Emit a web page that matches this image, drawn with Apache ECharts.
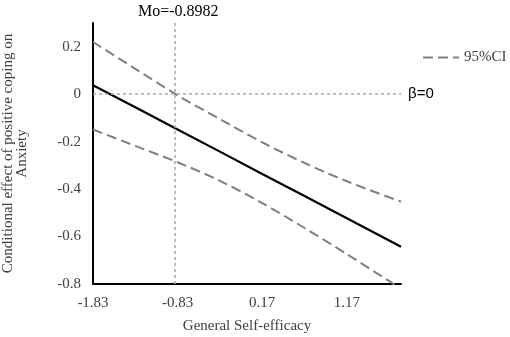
<!DOCTYPE html>
<html>
<head>
<meta charset="utf-8">
<script src="https://cdn.jsdelivr.net/npm/echarts@6/dist/echarts.min.js"></script>
<style>
  html, body { margin: 0; padding: 0; background: #fff; }
  #jnPlot { width: 510px; height: 337px; }
</style>
</head>
<body>
<div id="jnPlot"></div>
<script>
// general self-efficacy (moderator) values
var xData = [-1.83, -1.33, -0.83, -0.33, 0.17, 0.67, 1.17, 1.81]
// conditional effect and 95% CI bounds
var effect = [0.038, -0.055, -0.149, -0.242, -0.336, -0.429, -0.523, -0.643]
var ciUpper = [0.22, 0.107, -0.005, -0.105, -0.203, -0.29, -0.367, -0.453]
var ciLower = [-0.149, -0.218, -0.287, -0.365, -0.459, -0.564, -0.674, -0.82]
var yTicks = [-0.8, -0.6, -0.4, -0.2, 0, 0.2]
var xTicks = [-1.83, -0.83, 0.17, 1.17]
var moValue = -0.86
var moLabel = 'Mo=-0.8982'

function pairs(ys) {
  var out = []
  for (let i = 0; i < xData.length; i++) {
    out.push([xData[i], ys[i]])
  }
  return out
}

var chart = echarts.init(document.getElementById('jnPlot'));
var serif = '"Liberation Serif", "Times New Roman", serif';
var ciStyle = {
  color: '#7f7f7f',
  width: 2,
  type: [10, 5]
};

option = {
  animation: false,
  textStyle: { fontFamily: serif },
  title: {
    text: moLabel,
    left: 138,
    top: 4,
    padding: 0,
    textStyle: {
      fontFamily: serif,
      fontSize: 16,
      fontWeight: 'normal',
      color: '#000'
    }
  },
  grid: {
    left: 93,
    right: 109,
    top: 23,
    bottom: 53,
    outerBoundsMode: 'none'
  },
  legend: {
    left: 417,
    top: 45,
    itemWidth: 36,
    itemHeight: 14,
    itemGap: 5,
    itemStyle: { opacity: 0 },
    textStyle: {
      fontFamily: serif,
      fontSize: 15,
      color: '#404040'
    },
    data: ['95%CI']
  },
  xAxis: {
    type: 'value',
    min: xTicks[0],
    max: 1.81,
    interval: 1,
    name: 'General Self-efficacy',
    nameLocation: 'middle',
    nameGap: 35,
    nameTextStyle: { fontFamily: serif, fontSize: 15, color: '#404040' },
    splitLine: { show: false },
    axisTick: { show: false },
    axisLine: { onZero: false, lineStyle: { color: '#000', width: 2 } },
    axisLabel: {
      showMaxLabel: false,
      margin: 12,
      fontFamily: serif,
      fontSize: 15,
      color: '#404040',
      formatter: function (v) { return v.toFixed(2) }
    }
  },
  yAxis: {
    type: 'value',
    min: yTicks[0],
    max: 0.3,
    interval: 0.2,
    name: 'Conditional effect of positive coping on\nAnxiety',
    nameLocation: 'middle',
    nameGap: 64,
    nameTextStyle: { fontFamily: serif, fontSize: 15, color: '#404040', lineHeight: 14 },
    splitLine: { show: false },
    axisTick: { show: false },
    axisLine: { onZero: false, lineStyle: { color: '#000', width: 2 } },
    axisLabel: {
      showMaxLabel: false,
      margin: 12,
      fontFamily: serif,
      fontSize: 15,
      color: '#404040',
      formatter: function (v) { return v === 0 ? '0' : String(Math.round(v * 10) / 10) }
    }
  },
  series: [
    {
      name: 'effect',
      type: 'line',
      symbol: 'none',
      data: pairs(effect),
      lineStyle: { color: '#000', width: 2.2 },
      z: 3,
      markLine: {
        silent: true,
        symbol: ['none', 'none'],
        lineStyle: { color: '#a6a6a6', width: 1.5, type: [3, 3] },
        data: [
          {
            xAxis: moValue,
            label: { show: false }
          },
          {
            yAxis: 0,
            label: {
              position: 'end',
              formatter: 'β=0',
              distance: 7,
              fontFamily: '"Liberation Sans", Arial, sans-serif',
              fontSize: 15,
              color: '#000'
            }
          }
        ]
      }
    },
    {
      name: '95%CI',
      type: 'line',
      symbol: 'none',
      smooth: 0.3,
      data: pairs(ciUpper),
      lineStyle: ciStyle,
      itemStyle: { color: '#7f7f7f' }
    },
    {
      name: '95%CI',
      type: 'line',
      symbol: 'none',
      smooth: 0.3,
      data: pairs(ciLower),
      lineStyle: ciStyle,
      itemStyle: { color: '#7f7f7f' }
    }
  ]
};

if (option && typeof option === "object") {
  chart.setOption(option, true);
}
</script>
</body>
</html>
